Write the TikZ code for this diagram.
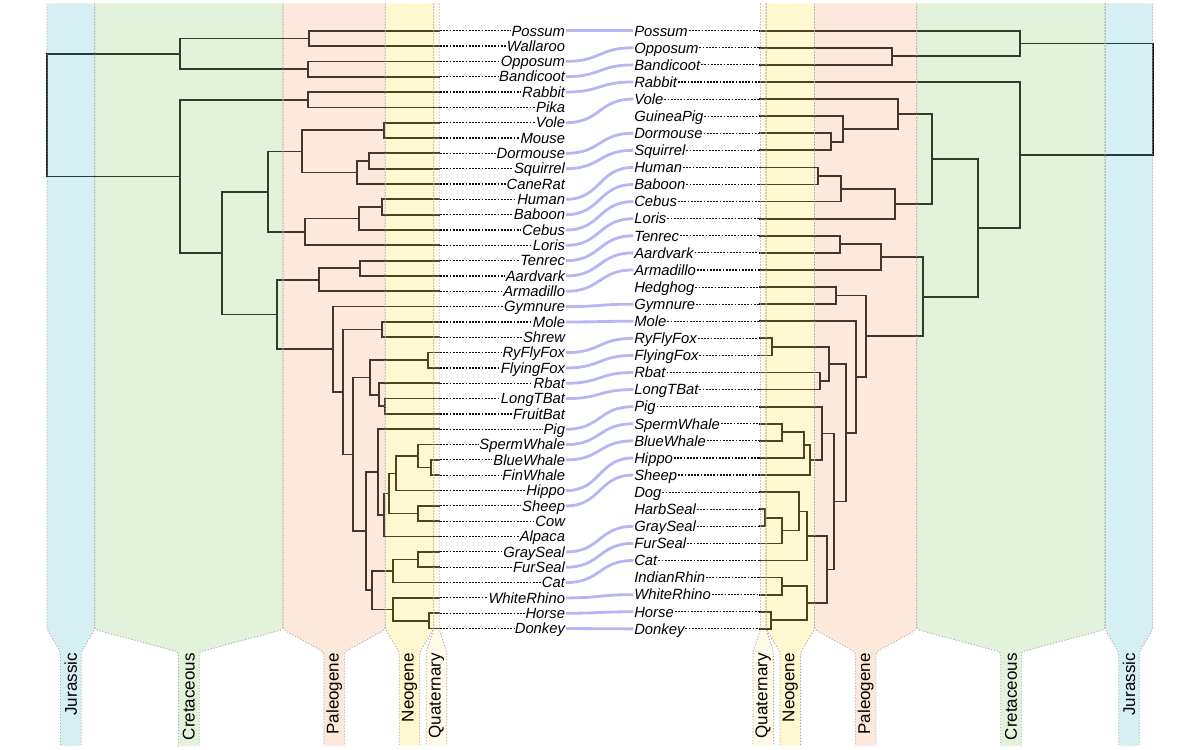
\documentclass[tikz,border=0pt]{standalone}
\usepackage{fontspec}
\setmainfont{Liberation Sans}
\definecolor{Jura}{HTML}{5BBFCF}
\definecolor{Creta}{HTML}{8FCB6B}
\definecolor{Paleo}{HTML}{F7A773}
\definecolor{Neo}{HTML}{FFE343}
\definecolor{Quat}{HTML}{FFEFA3}
\definecolor{Link}{HTML}{B6B6F4}
\definecolor{Ink}{HTML}{101010}
\definecolor{Rule}{HTML}{A8A8A8}
\begin{document}
\begin{tikzpicture}[x=1pt,y=-1pt,
  branch/.style={Ink,line width=1.7pt},
  leafdots/.style={Ink,line width=1.1pt,dash pattern=on 1.8pt off 1.4pt},
  taxon/.style={font=\fontsize{14.8}{15}\selectfont\itshape,inner xsep=.8pt,inner ysep=0pt,text height=10.6pt,text depth=0pt},
  link/.style={Link,line width=2.8pt},
  edge/.style={Rule,line width=.8pt,dash pattern=on 1.2pt off 1.8pt,rounded corners=3pt},
  period/.style={font=\fontsize{17}{17}\selectfont,rotate=90,anchor=east,inner sep=0pt}]
\useasboundingbox (0,0) rectangle (1200,750);

% left tree (y counts taxa)
\begin{scope}[yshift=-30.7pt,y=-15.33pt]
\foreach \n [count=\i from 0] in {Possum,Wallaroo,Opposum,Bandicoot,Rabbit,Pika,Vole,Mouse,Dormouse,Squirrel,CaneRat,Human,Baboon,Cebus,Loris,Tenrec,Aardvark,Armadillo,Gymnure,Mole,Shrew,RyFlyFox,FlyingFox,Rbat,LongTBat,FruitBat,Pig,SpermWhale,BlueWhale,FinWhale,Hippo,Sheep,Cow,Alpaca,GraySeal,FurSeal,Cat,WhiteRhino,Horse,Donkey}{
  \coordinate (l\n) at (440,\i);
  \node[taxon,anchor=east] (txtL-\n) at (566,\i) {\n};
  \draw[leafdots] (l\n) -- (txtL-\n);
}
\foreach \c/\x/\y in {La1/308.7/0.5,La2/308/2.5,LaM/179.7/1.5,Lb1/308/4.5,Lr1/384/6.5,Lr2/368.7/8.5,Lr3/356.7/9.25,Lr4/301.7/7.875,
  Lp1/381.7/11.5,Lp2/359/12.25,Lp3/304.7/13.125,Le1/267.7/10.5,Lt1/360/15.5,Lt2/319/16.25,Ll1/381.7/19.5,
  Lbt1/428/21.5,Lbt2/385/24.5,Lbt3/379.3/23.75,Lbt4/370.3/22.625,Lw1/431.3/28.5,Lw2/418/27.75,Lw3/396/28.875,
  Ls1/418/31.5,Lw4/389.3/30.1875,Lw5/384.3/31.5938,Lw6/377.7/28.7969,Lc1/418/34.5,Lc2/392.7/35.25,
  Lh1/429.3/38.5,Lh2/392.7/37.75,Lc3/372.3/36.5,Lw7/365.7/32.6484,Lbt5/353.3/27.6367,Ll2/343.3/23.5684,
  Ll3/333.3/20.7842,Le2/277/18.5171,Le3/221.7/14.5085,Le4/179.7/9.5043,Lroot/47/5.5021}
  \coordinate (\c) at (\x,\y);
\foreach \p/\a/\b in {La1/lPossum/lWallaroo,La2/lOpposum/lBandicoot,LaM/La1/La2,Lb1/lRabbit/lPika,
  Lr1/lVole/lMouse,Lr2/lDormouse/lSquirrel,Lr3/Lr2/lCaneRat,Lr4/Lr1/Lr3,Lp1/lHuman/lBaboon,Lp2/Lp1/lCebus,
  Lp3/Lp2/lLoris,Le1/Lr4/Lp3,Lt1/lTenrec/lAardvark,Lt2/Lt1/lArmadillo,Ll1/lMole/lShrew,
  Lbt1/lRyFlyFox/lFlyingFox,Lbt2/lLongTBat/lFruitBat,Lbt3/lRbat/Lbt2,Lbt4/Lbt1/Lbt3,
  Lw1/lBlueWhale/lFinWhale,Lw2/lSpermWhale/Lw1,Lw3/Lw2/lHippo,Ls1/lSheep/lCow,Lw4/Lw3/Ls1,Lw5/Lw4/lAlpaca,
  Lw6/lPig/Lw5,Lc1/lGraySeal/lFurSeal,Lc2/Lc1/lCat,Lh1/lHorse/lDonkey,Lh2/lWhiteRhino/Lh1,Lc3/Lc2/Lh2,
  Lw7/Lw6/Lc3,Lbt5/Lbt4/Lw7,Ll2/Ll1/Lbt5,Ll3/lGymnure/Ll2,Le2/Lt2/Ll3,Le3/Le1/Le2,Le4/Lb1/Le3,Lroot/LaM/Le4}
  \draw[branch] (\p) |- (\a) (\p) |- (\b);
\end{scope}

% right tree
\begin{scope}[yshift=-30.7pt,y=-17.09pt]
\foreach \n [count=\i from 0] in {Possum,Opposum,Bandicoot,Rabbit,Vole,GuineaPig,Dormouse,Squirrel,Human,Baboon,Cebus,Loris,Tenrec,Aardvark,Armadillo,Hedghog,Gymnure,Mole,RyFlyFox,FlyingFox,Rbat,LongTBat,Pig,SpermWhale,BlueWhale,Hippo,Sheep,Dog,HarbSeal,GraySeal,FurSeal,Cat,IndianRhin,WhiteRhino,Horse,Donkey}{
  \coordinate (r\n) at (759.3,\i);
  \node[taxon,anchor=west] (txtR-\n) at (633.3,\i) {\n};
  \draw[leafdots] (txtR-\n) -- (r\n);
}
\foreach \c/\x/\y in {Ra1/892/1.5,RaM/1020/0.75,Rr1/831.3/6.5,Rr2/843.3/5.75,Rr3/898/4.875,Rp1/818/8.5,Rp2/840.7/9.25,
  Rp3/895.3/10.125,Re1/932/7.5,Rt1/840/12.5,Rt2/880.7/13.25,Rh1/836/15.5,Rb1/771.7/18.5,Rb2/820.3/20.5,Rb3/829.3/19.5,
  Rw1/781.7/23.5,Rw2/803.7/24.25,Rw3/810.3/25.125,Rw4/822/23.5625,Rs1/764.7/28.5,Rs2/781.7/29.25,Rs3/799.3/28.125,
  Rs4/807.3/29.5625,Rn1/782.3/32.5,Rn2/770.7/34.5,Rn3/807.3/33.5,Rs5/827.3/31.5313,Rw5/834.3/27.5469,Rb4/846.3/23.5234,
  Rm1/856.3/20.2617,Rh2/866.3/17.8809,Rt3/922.7/15.5654,Re2/978.3/11.5327,Re3/1020/7.2664,Rroot/1152.7/4.0082}
  \coordinate (\c) at (\x,\y);
\foreach \p/\a/\b in {Ra1/rOpposum/rBandicoot,RaM/rPossum/Ra1,Rr1/rDormouse/rSquirrel,Rr2/rGuineaPig/Rr1,Rr3/rVole/Rr2,
  Rp1/rHuman/rBaboon,Rp2/Rp1/rCebus,Rp3/Rp2/rLoris,Re1/Rr3/Rp3,Rt1/rTenrec/rAardvark,Rt2/Rt1/rArmadillo,
  Rh1/rHedghog/rGymnure,Rb1/rRyFlyFox/rFlyingFox,Rb2/rRbat/rLongTBat,Rb3/Rb1/Rb2,Rw1/rSpermWhale/rBlueWhale,
  Rw2/Rw1/rHippo,Rw3/Rw2/rSheep,Rw4/rPig/Rw3,Rs1/rHarbSeal/rGraySeal,Rs2/Rs1/rFurSeal,Rs3/rDog/Rs2,Rs4/Rs3/rCat,
  Rn1/rIndianRhin/rWhiteRhino,Rn2/rHorse/rDonkey,Rn3/Rn1/Rn2,Rs5/Rs4/Rn3,Rw5/Rw4/Rs5,Rb4/Rb3/Rw5,Rm1/rMole/Rb4,
  Rh2/Rh1/Rm1,Rt3/Rt2/Rh2,Re2/Re1/Rt3,Re3/rRabbit/Re2,Rroot/RaM/Re3}
  \draw[branch] (\p) |- (\a) (\p) |- (\b);
\end{scope}

% links between the two trees
\foreach \n in {Possum,Opposum,Bandicoot,Rabbit,Vole,Dormouse,Squirrel,Human,Baboon,Cebus,Loris,Tenrec,Aardvark,Armadillo,Gymnure,Mole,RyFlyFox,FlyingFox,Rbat,LongTBat,Pig,SpermWhale,BlueWhale,Hippo,Sheep,GraySeal,FurSeal,Cat,WhiteRhino,Horse,Donkey}
  \draw[link] (txtL-\n.east) .. controls +(35,0) and +(-35,0) .. (txtR-\n.west);

% geological periods
\foreach \xl/\xr/\c/\t in {47/94.7/Jura/Jurassic,94.7/283/Creta/Cretaceous,283/385.3/Paleo/Paleogene,385.3/433.7/Neo/Neogene,433.7/439.3/Quat/Quaternary}{
  \pgfmathsetmacro\ra{1199.8-\xr}
  \pgfmathsetmacro\rb{1199.8-\xl}
  \foreach \a/\b in {\xl/\xr,\ra/\rb}{
    \pgfmathsetmacro\m{(\a+\b)/2}
    \fill[\c,fill opacity=.25,rounded corners=3pt] (\a,3.3) -- (\a,629.5) -- ({\m-10.3},652) -- ({\m-10.3},746)
      -- ({\m+10.3},746) -- ({\m+10.3},652) -- (\b,629.5) -- (\b,3.3) -- cycle;
    \draw[edge] (\a,3.3) -- (\a,629.5) -- ({\m-10.3},652) -- ({\m-10.3},746);
    \draw[edge] (\b,3.3) -- (\b,629.5) -- ({\m+10.3},652) -- ({\m+10.3},746);
    \node[period] at (\m,653) {\t};
  }
}
\end{tikzpicture}
\end{document}
